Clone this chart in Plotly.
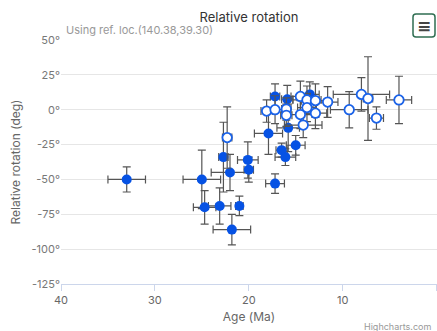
import plotly.graph_objects as go

# Filled series
filled_age = [33.0, 25.0, 24.7, 23.1, 21.0, 21.8, 22.7, 22.0, 20.1, 20.0, 17.9, 17.2, 16.5, 16.1, 15.0, 15.8, 17.2, 15.9, 13.5]
filled_rot = [-50, -50, -70, -69, -69, -86, -34, -45, -36, -43, -17, -53, -29, -34, -25.5, -13, 9.5, 7.5, 11]
filled_age_err = [2.0, 2.0, 1.2, 1.2, 0.4, 2.0, 0.5, 2.0, 1.1, 0.5, 1.5, 1.0, 0.6, 1.1, 1.0, 1.2, 0.5, 0.6, 1.0]
filled_rot_err = [9, 21, 12, 13, 7, 11, 25, 13, 13, 9, 15, 7, 5, 6, 7, 17, 9, 10, 9]

# Open series
open_age = [22.3, 18.1, 17.2, 16.0, 16.0, 14.5, 14.5, 13.8, 13.8, 12.9, 12.9, 14.2, 11.6, 9.3, 8.0, 7.3, 6.4, 4.0]
open_rot = [-20, -1, 0, 0.5, -4, 9.5, -3.5, 7, 1.5, 6.5, -2.5, -11, 5.5, 0, 11, 8, -6, 7]
open_age_err = [0.5, 0.6, 0.8, 0.5, 0.6, 1.0, 1.5, 1.5, 1.0, 1.5, 1.2, 2.0, 1.1, 2.0, 3.0, 0.5, 0.75, 1.35]
open_rot_err = [22, 8, 10, 8, 8, 11, 10, 10, 10, 12, 11, 9, 11, 13, 12, 30, 8, 17]

y_tickvals = [50, 25, 0, -25, -50, -75, -100, -125]
y_ticktext = ["50°", "25°", "0°", "-25°", "-50°", "-75°", "-100°", "-125°"]
x_tickvals = [40, 30, 20, 10, 0]
x_ticktext = ["40", "30", "20", "10", "0"]

FONT = "Inter, Open Sans, sans-serif"
ERR = dict(type="data", color="#555555", thickness=1.2, width=4)

W, H = 437, 331
L, T = 61, 40
PW, PH = 376, 244


def px(x):
    return (x - L) / PW


def py(y):
    return 1 - (y - T) / PH


fig = go.Figure()
fig.add_trace(go.Scatter(
    x=filled_age, y=filled_rot, mode="markers",
    marker=dict(size=10, color="#0652e4", line=dict(width=0)),
    error_x=dict(array=filled_age_err, **ERR),
    error_y=dict(array=filled_rot_err, **ERR),
    showlegend=False, cliponaxis=False,
))
fig.add_trace(go.Scatter(
    x=open_age, y=open_rot, mode="markers",
    marker=dict(size=9.5, color="white", line=dict(width=1.8, color="#1a62e8")),
    error_x=dict(array=open_age_err, **ERR),
    error_y=dict(array=open_rot_err, **ERR),
    showlegend=False, cliponaxis=False,
))

# rounded button outline (paper coords)
x0, x1, y0, y1, r = 413, 435, 14, 37, 3
bx = lambda v: px(v)
by = lambda v: py(v)
path = (f"M {bx(x0 + r)},{by(y0)} L {bx(x1 - r)},{by(y0)} Q {bx(x1)},{by(y0)} {bx(x1)},{by(y0 + r)} "
        f"L {bx(x1)},{by(y1 - r)} Q {bx(x1)},{by(y1)} {bx(x1 - r)},{by(y1)} "
        f"L {bx(x0 + r)},{by(y1)} Q {bx(x0)},{by(y1)} {bx(x0)},{by(y1 - r)} "
        f"L {bx(x0)},{by(y0 + r)} Q {bx(x0)},{by(y0)} {bx(x0 + r)},{by(y0)} Z")

fig.update_layout(
    width=W, height=H,
    margin=dict(l=L, r=0, t=T, b=H - T - PH),
    paper_bgcolor="white", plot_bgcolor="white",
    font=dict(family=FONT, color="#666666", size=11),
    title=dict(text="Relative rotation", x=0.5, xref="paper", xanchor="center",
               y=1 - 17 / H, yref="container", yanchor="middle",
               font=dict(size=13, color="#333333", family=FONT)),
    xaxis=dict(range=[40, -0.05], tickvals=x_tickvals, ticktext=x_ticktext,
               showgrid=False, zeroline=False, showline=True, linecolor="#ccd6eb", linewidth=1,
               ticks="outside", ticklen=6, tickcolor="#ccd6eb",
               tickfont=dict(size=11, color="#666666"),
               title=dict(text="Age (Ma)", font=dict(size=12, color="#666666"), standoff=6)),
    yaxis=dict(range=[-125, 50], tickvals=y_tickvals, ticktext=y_ticktext,
               showgrid=True, gridcolor="#e6e6e6", gridwidth=1, zeroline=False, showline=False,
               ticks="", tickfont=dict(size=11, color="#777777"),
               title=dict(text="Relative rotation (deg)", font=dict(size=12, color="#666666"), standoff=8)),
    annotations=[
        dict(text="Using ref. loc.(140.38,39.30)", xref="paper", yref="paper",
             x=px(64), y=py(30), xanchor="left", yanchor="middle", showarrow=False,
             font=dict(size=11, color="#999999", family=FONT)),
        dict(text="Highcharts.com", xref="paper", yref="paper", x=1, y=py(326),
             xanchor="right", yanchor="middle", showarrow=False, xshift=-4,
             font=dict(size=9, color="#999999", family=FONT)),
        dict(text="<b>≡</b>", xref="paper", yref="paper", x=px(424), y=py(25.5),
             xanchor="center", yanchor="middle", showarrow=False,
             font=dict(size=17, color="#444444", family="DejaVu Sans")),
    ],
    shapes=[
        dict(type="path", xref="paper", yref="paper", path=path,
             line=dict(color="#2f6e52", width=1.5), fillcolor="white", layer="below"),
    ],
)

fig.write_html("out.html")
